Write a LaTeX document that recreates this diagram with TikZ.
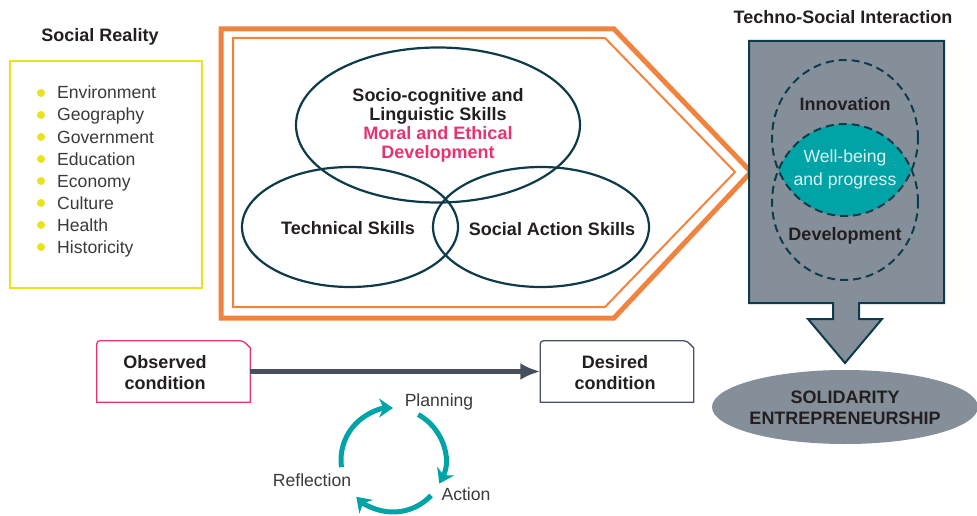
\documentclass[tikz,border=0pt]{standalone}
\usepackage{fontspec}
\setmainfont{Liberation Sans}
\usetikzlibrary{shapes.geometric,arrows.meta,calc}
\definecolor{orng}{HTML}{F0843F}
\definecolor{yell}{HTML}{E8E31C}
\definecolor{dteal}{HTML}{0E3B4B}
\definecolor{gbox}{HTML}{858F9A}
\definecolor{tealc}{HTML}{00A4A6}
\definecolor{pinkc}{HTML}{E8336F}
\definecolor{txt}{HTML}{231F20}
\definecolor{txtg}{HTML}{3A3A3A}
\definecolor{agray}{HTML}{474E5E}
\definecolor{dslate}{HTML}{4A5166}
\definecolor{lightt}{HTML}{D9F2F2}
\begin{document}
\begin{tikzpicture}[x=1pt,y=1pt,
  lbl/.style={font=\fontsize{18}{19}\selectfont\bfseries, text=txt, align=center, inner sep=0pt},
  reg/.style={font=\fontsize{17.6}{20}\selectfont, text=txtg, inner sep=0pt},
  bul/.style={circle, fill=yell, minimum size=8pt, inner sep=0pt},
  venn/.style={ellipse, draw=dteal, line width=2.2pt, inner sep=0pt},
  dashell/.style={draw=dteal, line width=2pt, dash pattern=on 8pt off 5pt},
  cyc/.style={tealc, line width=5pt, -{Stealth[length=14pt,width=19pt]}},
  condbox/.style={minimum width=153pt, minimum height=61pt, inner sep=0pt}
]
\useasboundingbox (0,0) rectangle (977,-516);

% Social reality
\node[lbl, anchor=base] (srt) at (100,-42) {Social Reality};
\draw[yell, line width=2pt] (10,-61) rectangle (202,-288);
\foreach \t [count=\i] in {Environment,Geography,Government,Education,Economy,Culture,Health,Historicity}{
  \node[bul] (b\i) at (41,{-93-(\i-1)*22}) {};
  \node[reg, anchor=base west] (it\i) at (57,{-99-(\i-1)*22}) {\t};
}

% Pentagons
\draw[orng, line width=5pt, line join=miter] (221,-29) -- (614,-29) -- (751,-172) -- (614,-318) -- (221,-318) -- cycle;
\draw[orng, line width=2pt, line join=miter] (233,-38) -- (605,-38) -- (735,-172) -- (605,-307) -- (233,-307) -- cycle;

% Venn
\node[venn, minimum width=284pt, minimum height=155pt] (vtop) at (438,-125) {};
\node[venn, minimum width=216pt, minimum height=120pt] (vleft) at (350,-227) {};
\node[venn, minimum width=216pt, minimum height=120pt] (vright) at (541,-227) {};
\node[lbl] (ttop) at (438,-125) {Socio-cognitive and\\Linguistic Skills\\\textcolor{pinkc}{Moral and Ethical}\\\textcolor{pinkc}{Development}};
\node[lbl] (tleft) at (348,-228) {Technical Skills};
\node[lbl] (tright) at (552,-229) {Social Action Skills};

% Techno-social
\node[lbl] (tst) at (843,-17) {Techno-Social Interaction};
\draw[fill=gbox, draw=dteal, line width=2pt, line join=miter]
  (749,-41) -- (944,-41) -- (944,-303) -- (859,-303) -- (859,-319) -- (882,-319)
  -- (845,-363) -- (808,-319) -- (833,-319) -- (833,-303) -- (749,-303) -- cycle;
\begin{scope}
  \clip (845,-138) ellipse [x radius=73, y radius=78];
  \fill[tealc] (845,-202) ellipse [x radius=73, y radius=78];
\end{scope}
\draw[dashell] (845,-138) ellipse [x radius=73, y radius=78];
\draw[dashell] (845,-202) ellipse [x radius=73, y radius=78];
\node[lbl] (inn) at (845,-104) {Innovation};
\node[lbl, font=\fontsize{17.6}{23}\selectfont, text=lightt] (wb) at (845,-169) {Well-being\\and progress};
\node[lbl] (dev) at (845,-236) {Development};

\node[ellipse, fill=gbox, minimum width=266pt, minimum height=74pt, inner sep=0pt] (sol) at (845,-407) {};
\node[lbl, font=\fontsize{18}{21}\selectfont\bfseries] (solt) at (845,-408) {SOLIDARITY\\ENTREPRENEURSHIP};

% Conditions
\node[condbox] (obs) at (173.5,-371.5) {};
\node[condbox] (des) at (617,-371.5) {};
\draw[pinkc, line width=1.3pt] (obs.south west) [rounded corners=3pt] -- (obs.north west) -- ([xshift=-7pt]obs.north east) [sharp corners] -- ([yshift=-7pt]obs.north east) -- (obs.south east) -- cycle;
\draw[dslate, line width=1.3pt] (des.south west) [rounded corners=3pt] -- (des.north west) -- ([xshift=-7pt]des.north east) [sharp corners] -- ([yshift=-7pt]des.north east) -- (des.south east) -- cycle;
\node[lbl, font=\fontsize{18}{21}\selectfont\bfseries] (obst) at (165,-373) {Observed\\condition};
\node[lbl, font=\fontsize{18}{21}\selectfont\bfseries] (dest) at (615,-373) {Desired\\condition};
\draw[agray, line width=5pt, -{Latex[length=20pt,width=17pt]}] (obs.east) -- (des.west);

% Cycle
\coordinate (cc) at (393,-460);
\draw[cyc] ($(cc)+(188:52)$) arc[start angle=188, end angle=90, radius=52];
\draw[cyc] ($(cc)+(61:52)$) arc[start angle=61, end angle=-27, radius=52];
\draw[cyc] ($(cc)+(-43:52)$) arc[start angle=-43, end angle=-135, radius=52];
\node[reg] (plan) at (439,-402) {Planning};
\node[reg] (act) at (466,-494) {Action};
\node[reg] (refl) at (312,-480) {Reflection};
\end{tikzpicture}
\end{document}
